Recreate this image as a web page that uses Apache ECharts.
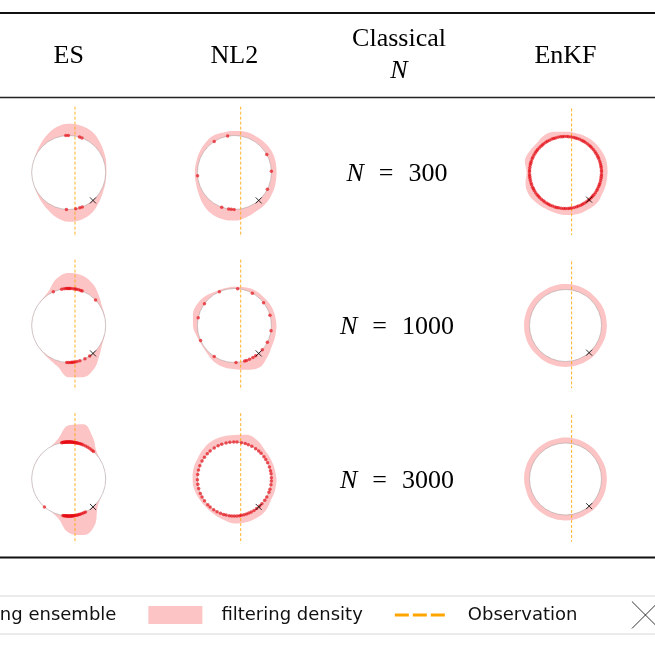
<!DOCTYPE html>
<html>
<head>
<meta charset="utf-8">
<script src="https://cdn.jsdelivr.net/npm/echarts@6/dist/echarts.min.js"></script>
<style>
  html, body { margin: 0; padding: 0; background: #fff; }
  #chart { width: 655px; height: 655px; }
</style>
</head>
<body>
<div id="chart"></div>
<script>
// table layout: columns of methods, rows of ensemble size
const columns = ['ES', 'NL2', 'EnKF']
const sampleSizes = [300, 1000, 3000]

// angles (deg, counter-clockwise from east) where the density outline is read
const densityAngles = [0, 15, 30, 45, 60, 75, 90, 105, 120, 135, 150, 165,
  180, 195, 210, 225, 240, 255, 270, 285, 300, 315, 330, 345]

// outer edge of the filtering density, in units of the circle radius
const esDensity300 = [1.02, 1.05, 1.1, 1.18, 1.27, 1.31, 1.32, 1.27, 1.17, 1.08, 1.02, 1.0,
  1.0, 1.0, 1.02, 1.07, 1.15, 1.26, 1.33, 1.32, 1.26, 1.15, 1.07, 1.03]
const esDensity1000 = [1.0, 1.01, 1.04, 1.15, 1.3, 1.4, 1.42, 1.3, 1.08, 1.01, 1.0, 1.0,
  1.0, 1.0, 1.0, 1.01, 1.05, 1.15, 1.4, 1.45, 1.36, 1.17, 1.04, 1.01]
const esDensity3000 = [1.0, 1.0, 1.0, 1.06, 1.3, 1.53, 1.45, 1.12, 1.0, 1.0, 1.0, 1.0,
  1.0, 1.0, 1.0, 1.0, 1.0, 1.1, 1.45, 1.57, 1.42, 1.1, 1.0, 1.0]
const nl2Density300 = [1.14, 1.15, 1.16, 1.15, 1.14, 1.14, 1.12, 1.12, 1.15, 1.12, 1.09, 1.07,
  1.07, 1.08, 1.12, 1.2, 1.27, 1.3, 1.3, 1.25, 1.2, 1.19, 1.17, 1.15]
const nl2Density1000 = [1.14, 1.13, 1.12, 1.1, 1.1, 1.07, 1.05, 1.04, 1.05, 1.12, 1.16, 1.16,
  1.12, 1.06, 1.03, 1.05, 1.12, 1.16, 1.18, 1.24, 1.32, 1.24, 1.16, 1.14]
const nl2Density3000 = [1.14, 1.12, 1.12, 1.14, 1.22, 1.24, 1.19, 1.19, 1.19, 1.17, 1.14, 1.14,
  1.13, 1.12, 1.09, 1.08, 1.1, 1.14, 1.2, 1.21, 1.21, 1.2, 1.14, 1.14]
const enkfDensity300 = [1.17, 1.18, 1.17, 1.16, 1.15, 1.13, 1.13, 1.17, 1.19, 1.14, 1.16, 1.17,
  1.08, 1.15, 1.19, 1.17, 1.15, 1.16, 1.18, 1.2, 1.2, 1.22, 1.18, 1.17]
const enkfDensity1000 = [1.15, 1.15, 1.15, 1.14, 1.15, 1.15, 1.15, 1.15, 1.14, 1.15, 1.15, 1.15,
  1.15, 1.15, 1.15, 1.14, 1.15, 1.15, 1.15, 1.15, 1.15, 1.15, 1.14, 1.15]
const enkfDensity3000 = [1.15, 1.15, 1.14, 1.15, 1.15, 1.15, 1.15, 1.14, 1.15, 1.15, 1.15, 1.15,
  1.15, 1.14, 1.15, 1.15, 1.15, 1.15, 1.15, 1.15, 1.14, 1.15, 1.15, 1.15]

// angles (deg) of the filtering ensemble members, all on the circle
const esPoints300 = [94.5, 90.5, 73, 69, 266.5, 281, 287.5, 291.5]
const esPoints1000 = [114.5, 101, 97, 94, 92, 90.5, 88.5, 86.8, 83, 80, 78, 74.4, 71, 68.7, 43.5,
  267, 270, 273, 275, 277, 279.5, 283, 287.5, 296, 304.5]
const esPoints3000 = [101, 99.5, 98, 97.2, 96, 95.3, 94, 93.1, 92, 91.4, 90, 89.2, 88, 87.3, 86,
  85.1, 84, 83, 81.8, 80.5, 79, 77.5, 76, 74, 72, 69.5, 67, 63, 59, 55, 51, 48,
  261, 262.5, 264, 265.2, 266, 267.4, 268, 269.3, 270, 271.2, 272, 273.5, 274, 275.1, 276,
  277.3, 278, 280, 282, 284, 286, 288, 291, 294, 297, 229]
const nl2Points300 = [123, 100.5, 29, 2, 333, 185, 250, 261, 265, 269.5]
const nl2Points1000 = [114, 85, 61, 38, 16, 352, 333, 319, 144, 168, 204, 237,
  272.5, 286, 289, 294, 300, 305]
const nl2Points3000 = [97, 91, 86, 79, 73, 68, 62, 55, 49, 44, 37, 32, 26, 19, 13, 8, 2, 357,
  351, 344, 339, 331, 325, 318, 313, 307, 302, 297, 293, 289, 285, 281, 278, 274, 270,
  266, 262, 257, 253, 248, 242, 236, 229, 224, 216, 209, 203, 195, 188, 181, 173, 166,
  159, 151, 144, 137, 131, 123, 116, 110, 103]
const enkfPoints300 = [1, 4, 8, 11, 14, 18, 22, 25, 28, 32, 35, 39, 43, 46, 49, 53, 57, 60, 63,
  67, 71, 74, 77, 81, 85, 88, 92, 95, 98, 102, 106, 109, 112, 116, 120, 123, 127, 130,
  133, 137, 141, 144, 147, 151, 155, 158, 162, 165, 168, 172, 176, 179, 183, 186, 189,
  193, 197, 200, 204, 207, 210, 214, 218, 221, 224, 228, 232, 235, 239, 242, 245, 249,
  253, 256, 259, 263, 267, 270, 274, 277, 280, 284, 288, 291, 295, 298, 301, 305, 309,
  312, 316, 319, 322, 326, 330, 333, 337, 340, 343, 347, 351, 354, 357]
const enkfPoints1000 = []
const enkfPoints3000 = []

// truth state (angle on circle) and observation (x position)
const truthAngle = 311
const obsX = 0.17
const obsSpan = [1.78, -1.74]

const densities = [
  [esDensity300, esDensity1000, esDensity3000],
  [nl2Density300, nl2Density1000, nl2Density3000],
  [enkfDensity300, enkfDensity1000, enkfDensity3000]
]
const ensembles = [
  [esPoints300, esPoints1000, esPoints3000],
  [nl2Points300, nl2Points1000, nl2Points3000],
  [enkfPoints300, enkfPoints1000, enkfPoints3000]
]

// page layout
const colX = [68.7, 234.4, 565.5]
const rowY = [172.5, 325.5, 479]
const unitPx = [37, 37, 36]
const rMax = 1.8
const pink = '#fcc4c4'
const red = 'rgba(232, 12, 20, 0.85)'
const orange = '#ffa500'
const serif = '"Liberation Serif", "DejaVu Serif", serif'
const xPath = 'path://M0,0L10,10M10,0L0,10'

const polar = []
const angleAxis = []
const radiusAxis = []
const grid = []
const xAxis = []
const yAxis = []
const series = []

let idx = 0
columns.forEach((col, c) => {
  sampleSizes.forEach((n, r) => {
    const cx = colX[c]
    const cy = rowY[r]
    const R = unitPx[c] * rMax
    polar.push({ center: [cx, cy], radius: R })
    angleAxis.push({ polarIndex: idx, type: 'value', min: 0, max: 360, startAngle: 0, clockwise: false, show: false })
    radiusAxis.push({ polarIndex: idx, type: 'value', min: 0, max: rMax, show: false })
    grid.push({ left: cx - R, top: cy - R, width: 2 * R, height: 2 * R, show: false })
    xAxis.push({ gridIndex: idx, type: 'value', min: -rMax, max: rMax, show: false })
    yAxis.push({ gridIndex: idx, type: 'value', min: -rMax, max: rMax, show: false })

    const dens = densities[c][r]
    const outline = densityAngles.map((a, k) => [dens[k], a])
    outline.push([dens[0], 360])

    series.push({
      name: 'filtering density',
      type: 'line',
      coordinateSystem: 'polar',
      polarIndex: idx,
      data: outline,
      smooth: 0.4,
      symbol: 'none',
      color: pink,
      lineStyle: { width: 0 },
      areaStyle: { color: pink, opacity: 1 },
      silent: true,
      z: 1
    })
    series.push({
      type: 'custom',
      coordinateSystem: 'polar',
      polarIndex: idx,
      data: [[1, 0]],
      silent: true,
      z: 2,
      renderItem: function (params, api) {
        const c0 = api.coord([0, 0])
        const c1 = api.coord([api.value(0), 0])
        return {
          type: 'circle',
          shape: { cx: c0[0], cy: c0[1], r: Math.hypot(c1[0] - c0[0], c1[1] - c0[1]) },
          style: { fill: '#fff', stroke: 'rgba(150,140,140,0.55)', lineWidth: 0.8 }
        }
      }
    })
    series.push({
      name: 'Observation',
      type: 'line',
      xAxisIndex: idx,
      yAxisIndex: idx,
      data: [[obsX, obsSpan[0]], [obsX, obsSpan[1]]],
      symbol: 'none',
      color: orange,
      lineStyle: { color: orange, width: 1, type: [3, 2], opacity: 0.85 },
      silent: true,
      z: 3
    })
    series.push({
      name: 'filtering ensemble',
      type: 'scatter',
      coordinateSystem: 'polar',
      polarIndex: idx,
      data: ensembles[c][r].map(a => [1, a]),
      symbolSize: 3.5,
      itemStyle: { color: red },
      silent: true,
      z: 4
    })
    series.push({
      name: 'truth',
      type: 'scatter',
      coordinateSystem: 'polar',
      polarIndex: idx,
      data: [[1, truthAngle]],
      symbol: xPath,
      symbolSize: 6,
      itemStyle: { color: 'transparent', borderColor: '#000', borderWidth: 1 },
      silent: true,
      z: 5
    })
    idx++
  })
})

const graphic = [
  { type: 'line', shape: { x1: 0, y1: 13, x2: 655, y2: 13 }, style: { stroke: '#111', lineWidth: 2 } },
  { type: 'line', shape: { x1: 0, y1: 97.5, x2: 655, y2: 97.5 }, style: { stroke: '#222', lineWidth: 1.5 } },
  { type: 'line', shape: { x1: 0, y1: 557.5, x2: 655, y2: 557.5 }, style: { stroke: '#111', lineWidth: 2 } }
]
const headerX = { ES: colX[0], NL2: colX[1], EnKF: colX[2] }
columns.forEach(col => {
  graphic.push({
    type: 'text', x: headerX[col], y: 56,
    style: { text: col, fontFamily: serif, fontSize: 26, fill: '#000', align: 'center', verticalAlign: 'middle' }
  })
})
graphic.push({
  type: 'text', x: 399, y: 39,
  style: { text: 'Classical', fontFamily: serif, fontSize: 26, fill: '#000', align: 'center', verticalAlign: 'middle' }
})
graphic.push({
  type: 'text', x: 399, y: 71,
  style: { text: 'N', fontFamily: serif, fontStyle: 'italic', fontSize: 26, fill: '#000', align: 'center', verticalAlign: 'middle' }
})
sampleSizes.forEach((n, r) => {
  graphic.push({
    type: 'text', x: 397, y: rowY[r] + 2,
    style: {
      text: '{n|N}{e|=}{d|' + n + '}',
      align: 'center',
      verticalAlign: 'middle',
      rich: {
        n: { fontFamily: serif, fontSize: 26, fontStyle: 'italic', fill: '#000' },
        e: { fontFamily: serif, fontSize: 26, fill: '#000', padding: [0, 15, 0, 15] },
        d: { fontFamily: serif, fontSize: 26, fill: '#000' }
      }
    }
  })
})

const option = {
  animation: false,
  backgroundColor: '#fff',
  legend: {
    left: -130,
    top: 596,
    width: 1300,
    padding: [5, 10],
    itemWidth: 68,
    itemHeight: 27,
    itemGap: 32,
    selectedMode: false,
    borderColor: '#d6d6d6',
    borderWidth: 1,
    borderRadius: 4,
    backgroundColor: '#fff',
    textStyle: { fontFamily: '"DejaVu Sans"', fontSize: 18, color: '#111' },
    data: [
      { name: 'filtering ensemble', icon: 'path://M27,10a3.5,3.5 0 1,0 0.01,0zM0,0M68,27', itemStyle: { color: red, borderWidth: 0 } },
      { name: 'filtering density', icon: 'path://M0,0M0,4.5L54,4.5L54,22.5L0,22.5ZM68,27', itemStyle: { color: pink, borderWidth: 0 } },
      { name: 'Observation', icon: 'path://M0,12h14v3h-14zM18,12h14v3h-14zM36,12h14v3h-14zM0,0M68,27', itemStyle: { color: orange, borderWidth: 0 } },
      { name: 'truth', icon: 'path://M0,0M22,0L49,27M49,0L22,27M68,27', itemStyle: { color: 'transparent', borderColor: '#000', borderWidth: 1 } }
    ]
  },
  polar,
  angleAxis,
  radiusAxis,
  grid,
  xAxis,
  yAxis,
  series,
  graphic
}

const chart = echarts.init(document.getElementById('chart'))
chart.setOption(option)
</script>
</body>
</html>
